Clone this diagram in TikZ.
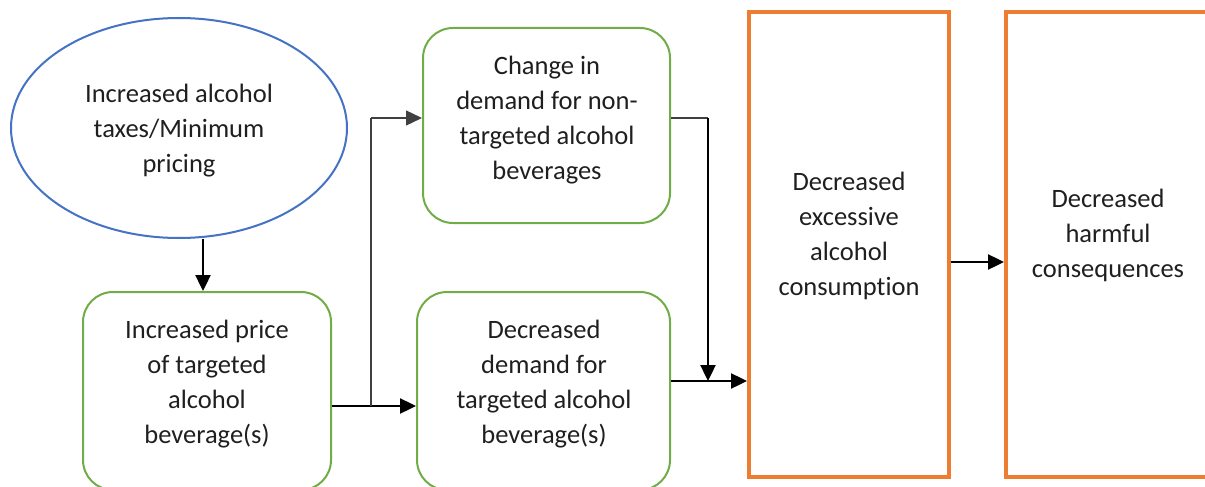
\documentclass[tikz,border=0pt]{standalone}
\usepackage{fontspec}
\setmainfont[Ligatures=NoCommon]{Carlito}
\usetikzlibrary{shapes.geometric,arrows.meta}
\definecolor{oblue}{HTML}{4472C4}
\definecolor{ogreen}{HTML}{70AD47}
\definecolor{oorange}{HTML}{ED7D31}
\definecolor{dgrey}{HTML}{404040}
\begin{document}
\begin{tikzpicture}[x=1pt,y=1pt,
  txt/.style={align=center,font=\fontsize{26.5}{35}\selectfont,text=black!88,inner sep=0pt},
  gbox/.style={draw=ogreen,line width=2pt,rounded corners=30pt,inner sep=0pt},
  obox/.style={draw=oorange,line width=4pt,inner sep=0pt},
  bell/.style={draw=oblue,line width=2pt,ellipse,inner sep=0pt},
  arr/.style={line width=2.4pt,-{Triangle[length=16pt,width=15pt]}},
  thinln/.style={line width=1.3pt,draw=dgrey}]
\useasboundingbox (0,0) rectangle (1205,-487);
\clip (0,0) rectangle (1205,-487);
% shapes
\node[bell,minimum width=336pt,minimum height=220pt] (ell) at (179,-128) {};
\node[gbox,minimum width=248pt,minimum height=198pt] (b1) at (207,-391) {};
\node[gbox,minimum width=247pt,minimum height=195pt] (b2) at (546.5,-125.5) {};
\node[gbox,minimum width=253pt,minimum height=198pt] (b3) at (543.5,-391) {};
\node[obox,minimum width=200pt,minimum height=465pt] (b4) at (849,-244.5) {};
\node[obox,minimum width=212pt,minimum height=465pt] (b5) at (1112,-244.5) {};
% texts
\node[txt] (t0) at (179,-131) {Increased alcohol\\taxes/Minimum\\pricing};
\node[txt] (t1) at (207,-384) {Increased price\\of targeted\\alcohol\\beverage(s)};
\node[txt] (t2) at (547,-120) {Change in\\demand for non-\\targeted alcohol\\beverages};
\node[txt] (t3) at (544,-384) {Decreased\\demand for\\targeted alcohol\\beverage(s)};
\node[txt] (t4) at (849,-235.5) {Decreased\\excessive\\alcohol\\consumption};
\node[txt] (t5) at (1108,-235) {Decreased\\harmful\\consequences};
% connectors
\coordinate (j1) at (371,-406);
\coordinate (j2) at (708,-118);
\draw[arr] (ell.south -| 203,0) -- (b1.north -| 203,0);
\draw[arr] (b1.east |- j1) -- (b3.west |- j1);
\draw[thinln] (j1) -- (371,-118);
\draw[arr,line width=1.3pt,dgrey] (371,-118) -- (b2.west |- j2);
\draw[thinln] (b2.east |- j2) -- (j2);
\draw[arr] (j2) -- (708,-381);
\draw[arr] (b3.east |- 0,-381) -- (b4.west |- 0,-381);
\draw[arr] (b4.east |- 0,-262) -- (b5.west |- 0,-262);
\end{tikzpicture}
\end{document}
